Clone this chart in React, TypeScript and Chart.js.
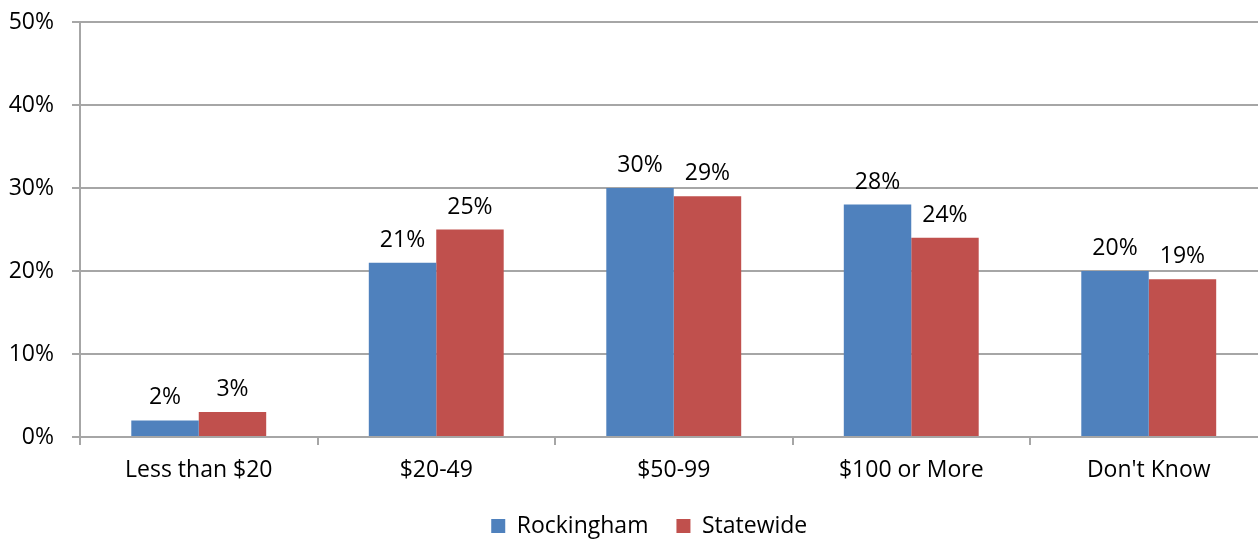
import React, { useEffect, useRef } from 'react';
import { Chart, registerables } from 'chart.js';
Chart.register(...registerables);

const categories = ['Less than $20', '$20-49', '$50-99', '$100 or More', "Don't Know"];
const rockingham = [2, 21, 30, 28, 20];
const statewide = [3, 25, 29, 24, 19];
const seriesNames = ['Rockingham', 'Statewide'];
const seriesColors = ['#4F81BD', '#C0504D'];
const yMin = 0;
const yMax = 50;
const yStep = 10;

const FONT = "'Open Sans', sans-serif";
const FS = 23;
const GRID = '#a6a6a6';
const LEGEND_SHIFT = 15.5;

const labelPlugin = {
  id: 'barLabels',
  afterLayout(chart: any) {
    const lg = chart.legend;
    if (lg) {
      lg.left += LEGEND_SHIFT;
      lg.right += LEGEND_SHIFT;
    }
  },
  afterDatasetsDraw(chart: any) {
    const ctx = chart.ctx;
    ctx.save();
    ctx.font = `${FS}px ${FONT}`;
    ctx.fillStyle = '#000';
    ctx.textAlign = 'center';
    ctx.textBaseline = 'alphabetic';
    chart.data.datasets.forEach((ds: any, i: number) => {
      const meta = chart.getDatasetMeta(i);
      meta.data.forEach((bar: any, j: number) => {
        ctx.fillText(ds.data[j] + '%', bar.x, bar.y - 16);
      });
    });
    ctx.restore();
  },
};

export default function App() {
  const ref = useRef<HTMLCanvasElement>(null);
  useEffect(() => {
    if (!ref.current) return;
    const chart = new Chart(ref.current, {
      type: 'bar',
      data: {
        labels: categories,
        datasets: [
          { label: seriesNames[0], data: rockingham, backgroundColor: seriesColors[0], borderWidth: 0 },
          { label: seriesNames[1], data: statewide, backgroundColor: seriesColors[1], borderWidth: 0 },
        ],
      },
      plugins: [labelPlugin],
      options: {
        responsive: false,
        animation: false,
        layout: { padding: { top: 22, right: 26.5, left: 0, bottom: -7.5 } },
        datasets: { bar: { categoryPercentage: 0.568, barPercentage: 1 } },
        plugins: {
          legend: {
            position: 'bottom',
            labels: {
              boxWidth: 14,
              boxHeight: 14,
              padding: 28,
              color: '#000',
              font: { family: FONT, size: FS },
            },
          },
          tooltip: { enabled: false },
        },
        scales: {
          x: {
            offset: true,
            grid: { drawOnChartArea: false, drawTicks: true, tickLength: 8, color: GRID, lineWidth: 2 },
            border: { color: GRID, width: 2 },
            ticks: { color: '#000', font: { family: FONT, size: FS }, padding: 12, maxRotation: 0 },
            afterFit: (s: any) => { s.height = 49.5; s.paddingLeft = 0; s.paddingRight = 0; },
          },
          y: {
            min: yMin,
            max: yMax,
            ticks: {
              stepSize: yStep,
              color: '#000',
              font: { family: FONT, size: FS },
              padding: 18,
              callback: (v: any) => v + '%',
            },
            grid: { color: GRID, lineWidth: 2, tickLength: 8 },
            border: { color: GRID, width: 2 },
            afterFit: (s: any) => { s.width = 80; s.paddingTop = 0; s.paddingBottom = 0; },
          },
        },
      },
    });
    return () => chart.destroy();
  }, []);
  return (
    <div style={{ position: 'absolute', left: 0, top: 0, width: 1258, height: 540, overflow: 'hidden', background: '#fff' }}>
      <canvas ref={ref} width={1294} height={540} style={{ width: 1294, height: 540, display: 'block' }} />
    </div>
  );
}
